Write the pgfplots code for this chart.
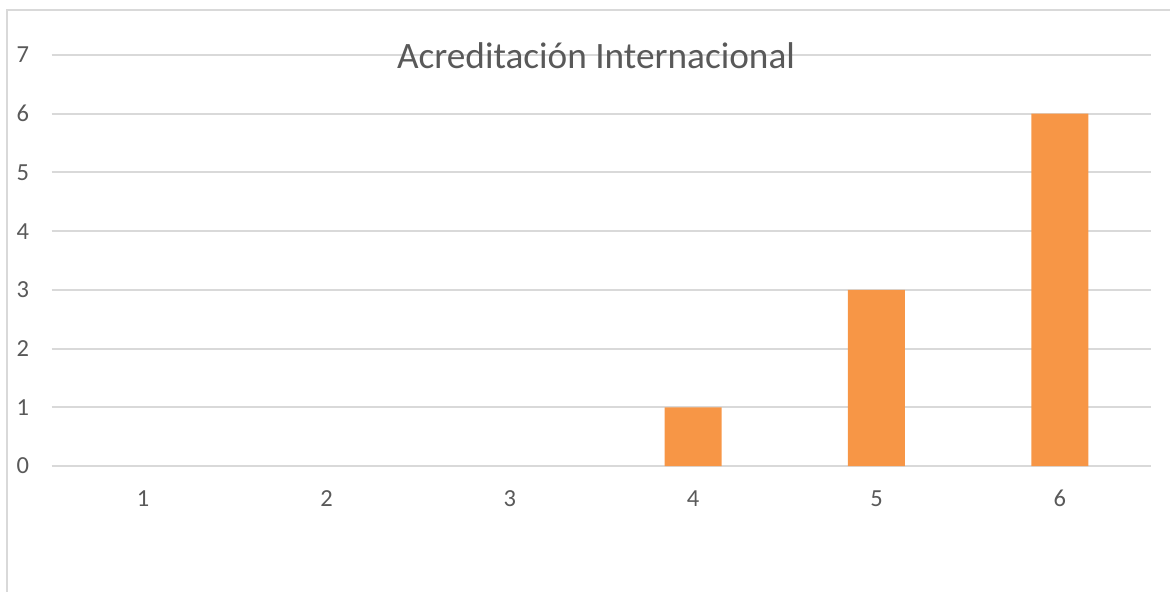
\documentclass[border=0pt]{standalone}
\usepackage{fontspec}
\setmainfont{Carlito}
\usepackage{pgfplots}
\pgfplotsset{compat=1.18}
\definecolor{barorange}{HTML}{F79646}
\definecolor{gridgray}{HTML}{D9D9D9}
\definecolor{textgray}{HTML}{595959}
\begin{document}
\begin{tikzpicture}
\clip (0,0) rectangle (585bp,-296bp);
% chart area border, cut by the image edge
\draw[gridgray, line width=1bp] (3.5bp,-400bp) -- (3.5bp,-5bp) -- (700bp,-5bp);
\begin{axis}[
    at={(25.75bp,-233bp)}, anchor=south west,
    scale only axis,
    width=550bp, height=205.5bp,
    xmin=0.5, xmax=6.5,
    ymin=0, ymax=7,
    xtick={1,...,6},
    ytick={0,...,7},
    axis line style={draw=none},
    tick style={draw=none},
    ymajorgrids=true,
    grid style={gridgray, line width=1bp},
    /pgf/number format/assume math mode=true,
    ticklabel style={font=\fontsize{12.3}{14}\selectfont, text=textgray, inner sep=0pt},
    yticklabel style={anchor=east, xshift=-11bp},
    xticklabel style={anchor=north, yshift=-12bp},
]
\addplot[ybar, bar width=28.5bp, fill=barorange, draw=none,
    y filter/.expression={y==0 ? nan : y}]
    coordinates {(1,0)(2,0)(3,0)(4,1)(5,3)(6,6)};
\end{axis}
\node[anchor=base, text=textgray, font=\fontsize{18.7}{22}\selectfont]
    at (298bp,-34bp) {Acreditación Internacional};
\end{tikzpicture}
\end{document}
